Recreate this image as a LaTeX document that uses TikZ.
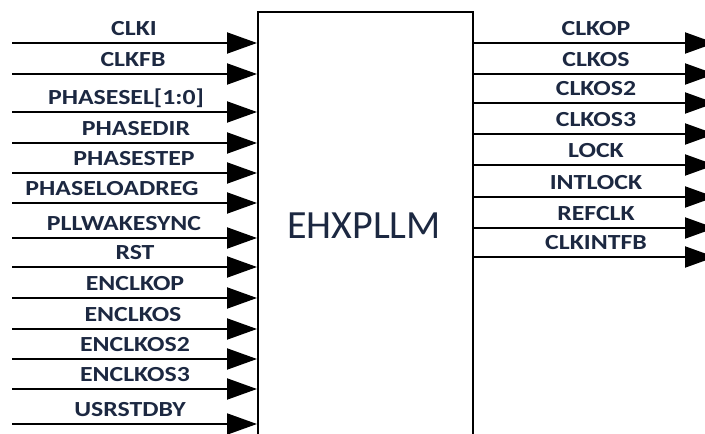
\documentclass[tikz,border=0pt]{standalone}
\usepackage{fontspec}
\setmainfont{Carlito}
\usetikzlibrary{positioning,arrows.meta}
\definecolor{ink}{HTML}{1C2841}

\begin{document}
\begin{tikzpicture}[x=1pt,y=-1pt,
  pin line/.style={line width=2pt,-{Triangle[length=30pt,width=21pt]}},
  pin label/.style={anchor=base,inner sep=0pt,text=ink,
    font=\bfseries\fontsize{21.5}{24}\selectfont}]
\useasboundingbox (0,0) rectangle (705,434);
\node[draw,line width=2pt,anchor=north west,minimum width=215pt,
  minimum height=440pt,inner sep=0pt] (pll) at (257,11) {};
\node[font=\fontsize{40}{44}\selectfont,text=ink] (pllname) at (364,226) {EHXPLLM};
% inputs
\foreach \y/\cx/\txt [count=\i] in {43/134/CLKI,74/133/CLKFB,112/126/{PHASESEL[1:0]},
  143/136/PHASEDIR,173/134/PHASESTEP,203/112/PHASELOADREG,238/124/PLLWAKESYNC,
  267/135/RST,298/135/ENCLKOP,329/133/ENCLKOS,359/135/ENCLKOS2,389/135/ENCLKOS3,
  424/130/USRSTDBY}{
  \coordinate (in\i) at (12,\y);
  \draw[pin line] (in\i) -- (in\i -| pll.west);
  \node[pin label] (inlbl\i) at (\cx,\y-8) {\scalebox{1.2}[1]{\txt}};
}
% outputs
\foreach \y/\txt [count=\i] in {43/CLKOP,74/CLKOS,103/CLKOS2,134/CLKOS3,
  165/LOCK,197/INTLOCK,228/REFCLK,257/CLKINTFB}{
  \coordinate (out\i) at (715,\y);
  \draw[pin line] (out\i -| pll.east) -- (out\i);
  \node[pin label] (outlbl\i) at (596,\y-8) {\scalebox{1.2}[1]{\txt}};
}
\end{tikzpicture}
\end{document}
